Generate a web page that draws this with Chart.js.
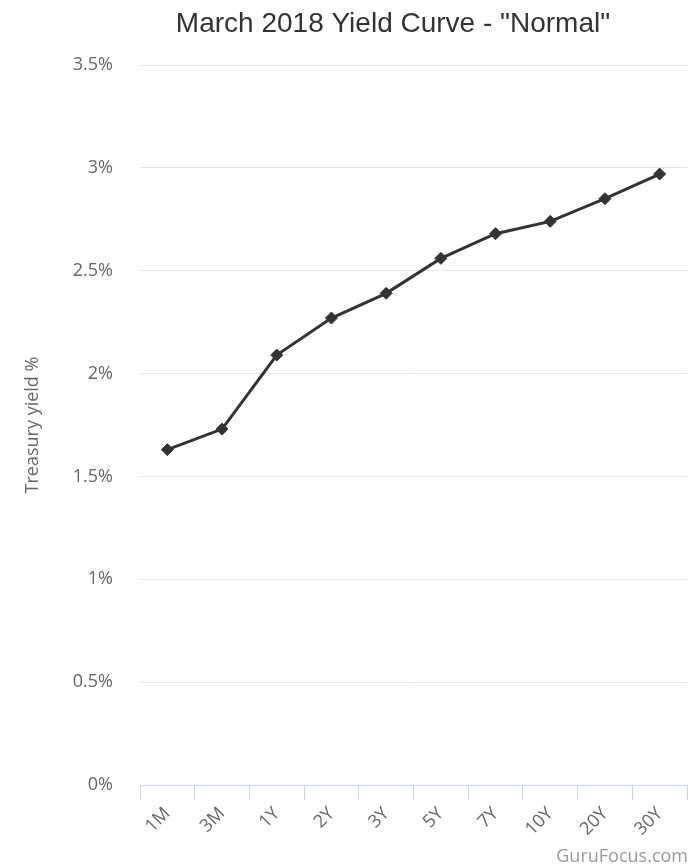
<!DOCTYPE html>
<html>
<head>
<meta charset="utf-8">
<title>March 2018 Yield Curve</title>
<script src="https://cdn.jsdelivr.net/npm/chart.js@4.4.1/dist/chart.umd.min.js"></script>
<style>
    html, body { margin: 0; padding: 0; background: #ffffff; }
    #chartBox { position: relative; width: 694px; height: 865px; }
</style>
</head>
<body>
<div id="chartBox"><canvas id="yieldCurveChart"></canvas></div>
<script>
// Treasury maturities and their yields (%) at the end of March 2018
const maturities = ['1M', '3M', '1Y', '2Y', '3Y', '5Y', '7Y', '10Y', '20Y', '30Y'];
const yields = [1.63, 1.73, 2.09, 2.27, 2.39, 2.56, 2.68, 2.74, 2.85, 2.97];

// y axis range, one label every half percent
const yMin = 0;
const yMax = 3.5;
const yStep = 0.5;

const chartTitle = 'March 2018 Yield Curve - "Normal"';
const axisTitle = 'Treasury yield %';
const creditText = 'GuruFocus.com';

document.addEventListener('DOMContentLoaded', function() {
    const ctx = document.getElementById('yieldCurveChart')?.getContext('2d');
    if (!ctx || typeof Chart === 'undefined') {
        console.warn("Chart.js or canvas missing.");
        return;
    }

    const lineColor = '#333333';
    const gridColor = '#e6e6e6';
    const axisColor = '#ccd6eb';
    const labelColor = '#666666';

    // title on top and the source credit in the lower right corner
    const textPlugin = {
        id: 'chartTexts',
        afterDraw(chart) {
            const c = chart.ctx;
            c.save();
            c.fillStyle = '#333333';
            c.font = '28px "Liberation Sans", Arial, sans-serif';
            c.textAlign = 'center';
            c.textBaseline = 'alphabetic';
            c.fillText(chartTitle, 393, 32);

            c.fillStyle = '#999999';
            c.font = '18px "Open Sans", sans-serif';
            c.textAlign = 'right';
            c.fillText(creditText, 688, 862);
            c.restore();
        }
    };

    new Chart(ctx, {
        type: 'line',
        data: {
            labels: maturities,
            datasets: [{
                label: 'Yield',
                data: yields,
                borderColor: lineColor,
                backgroundColor: lineColor,
                borderWidth: 3,
                tension: 0,
                pointStyle: 'rectRot',
                pointRadius: 6,
                pointBorderWidth: 1,
                pointBackgroundColor: lineColor,
                pointBorderColor: lineColor
            }]
        },
        options: {
            responsive: true,
            maintainAspectRatio: false,
            animation: false,
            layout: {
                padding: { top: 65, right: 6, bottom: 0, left: 0 }
            },
            plugins: {
                legend: { display: false },
                tooltip: { enabled: false },
                title: { display: false }
            },
            scales: {
                x: {
                    offset: true,
                    grid: {
                        offset: true,
                        drawOnChartArea: false,
                        drawTicks: true,
                        tickLength: 15,
                        color: axisColor
                    },
                    border: { display: true, color: axisColor, width: 1 },
                    ticks: {
                        autoSkip: false,
                        minRotation: 45,
                        maxRotation: 45,
                        padding: 3,
                        color: labelColor,
                        font: { family: '"Open Sans", sans-serif', size: 18 }
                    },
                    afterFit: function(scale) { scale.height = 80; }
                },
                y: {
                    min: yMin,
                    max: yMax,
                    ticks: {
                        stepSize: yStep,
                        padding: 27,
                        color: labelColor,
                        font: { family: '"Open Sans", sans-serif', size: 18 },
                        callback: function(value) { return value + '%'; }
                    },
                    grid: {
                        color: gridColor,
                        drawTicks: false
                    },
                    border: { display: false },
                    title: {
                        display: true,
                        text: axisTitle,
                        color: labelColor,
                        font: { family: '"Open Sans", sans-serif', size: 18 },
                        padding: { top: 22, bottom: 0 }
                    },
                    afterFit: function(scale) { scale.width = 140; }
                }
            }
        },
        plugins: [textPlugin]
    });
});
</script>
</body>
</html>
